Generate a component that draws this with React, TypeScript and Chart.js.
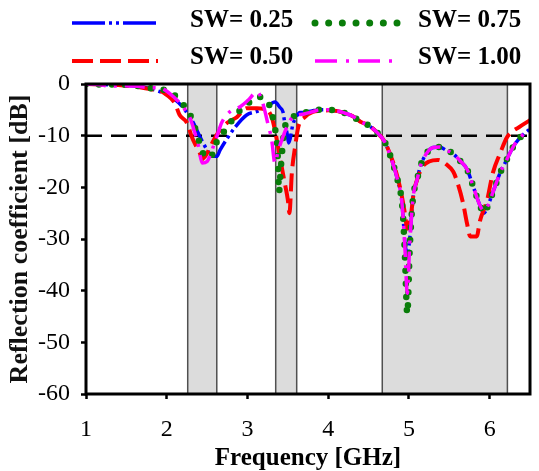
import React, { useEffect, useRef } from "react";
import { Chart, registerables } from "chart.js";

Chart.register(...registerables);

const SERIF = "'Liberation Serif', 'Times New Roman', serif";

// ---- data (frequency GHz, reflection coefficient dB) ----
const sw025: [number, number][] = [
  [1.0, 0], [1.2, -0.1], [1.4, -0.2], [1.6, -0.4], [1.8, -0.9], [1.92, -1.5], [2.0, -2.0],
  [2.1, -3.0], [2.2, -4.5], [2.29, -6.5], [2.33, -7.5], [2.39, -9.5], [2.45, -11.4],
  [2.51, -13.0], [2.56, -14.0], [2.62, -14.0], [2.66, -12.8], [2.75, -10.5], [2.85, -8.3],
  [2.99, -6.0], [3.12, -5.3], [3.24, -4.4], [3.34, -3.5], [3.40, -4.5], [3.44, -5.4],
  [3.46, -7.3], [3.49, -9.5], [3.51, -11.4], [3.53, -10.5], [3.56, -8.0], [3.60, -6.5],
  [3.65, -5.5], [3.70, -5.5], [3.80, -5.2], [3.90, -5.0], [4.0, -5.0], [4.1, -5.2],
  [4.2, -5.6], [4.3, -6.2], [4.4, -7.3], [4.5, -8.0], [4.6, -9.3], [4.7, -11.2], [4.8, -15.3],
  [4.86, -18.6], [4.91, -22.4], [4.93, -26.3], [4.95, -30.5], [4.98, -33.0], [5.01, -30.0],
  [5.04, -24.0], [5.06, -21.0], [5.10, -18.6], [5.14, -16.0], [5.22, -13.4], [5.30, -12.3],
  [5.38, -12.2], [5.46, -12.8], [5.54, -13.4], [5.63, -14.8], [5.72, -16.5], [5.80, -20.0],
  [5.88, -23.5], [5.93, -25.0], [5.98, -23.5], [6.04, -21.0], [6.13, -17.2], [6.21, -14.7],
  [6.29, -12.2], [6.37, -10.5], [6.5, -8.7],
];

const sw050: [number, number][] = [
  [1.0, 0], [1.2, -0.1], [1.4, -0.2], [1.6, -0.5], [1.8, -1.0], [1.92, -1.3], [2.0, -2.1],
  [2.1, -3.7], [2.16, -6.0], [2.25, -7.5], [2.31, -10.2], [2.37, -12.2], [2.41, -13.4],
  [2.44, -14.5], [2.50, -13.4], [2.57, -11.2], [2.66, -8.9], [2.75, -7.5], [2.87, -6.4],
  [2.99, -4.7], [3.12, -4.7], [3.24, -5.0], [3.30, -6.4], [3.34, -8.9], [3.40, -14.0],
  [3.46, -19.0], [3.50, -22.4], [3.52, -25.0], [3.55, -17.2], [3.59, -12.2], [3.63, -8.3],
  [3.71, -6.4], [3.81, -5.4], [3.9, -5.2], [4.0, -5.1], [4.1, -5.2], [4.2, -5.6], [4.3, -6.2],
  [4.4, -7.3], [4.5, -8.0], [4.6, -9.3], [4.7, -11.2], [4.8, -15.0], [4.89, -20.0],
  [4.95, -25.0], [4.98, -28.0], [5.02, -26.0], [5.06, -21.0], [5.10, -18.6], [5.17, -16.0],
  [5.25, -15.0], [5.36, -14.7], [5.46, -15.5], [5.55, -17.0], [5.60, -19.0], [5.67, -23.0],
  [5.72, -27.0], [5.76, -29.5], [5.84, -29.5], [5.88, -26.5], [5.97, -22.4], [6.04, -17.2],
  [6.13, -13.4], [6.22, -10.2], [6.37, -8.3], [6.5, -7.0],
];

const sw075: [number, number][] = [
  [1.0, 0], [1.2, -0.1], [1.4, -0.1], [1.6, -0.3], [1.8, -0.8], [1.92, -1.0], [2.04, -1.5],
  [2.19, -3.7], [2.29, -6.0], [2.35, -8.5], [2.39, -10.5], [2.45, -13.4], [2.50, -14.3],
  [2.56, -13.8], [2.63, -10.8], [2.75, -8.5], [2.85, -6.0], [2.97, -4.4], [3.12, -2.5],
  [3.24, -3.1], [3.30, -5.6], [3.34, -8.5], [3.37, -12.2], [3.38, -16.0], [3.39, -21.0],
  [3.41, -17.0], [3.43, -13.0], [3.46, -8.5], [3.56, -6.4], [3.74, -5.4], [3.9, -5.0],
  [4.0, -5.0], [4.1, -5.2], [4.2, -5.6], [4.3, -6.2], [4.4, -7.3], [4.5, -8.0], [4.6, -9.3],
  [4.7, -11.2], [4.8, -15.3], [4.86, -18.6], [4.91, -22.4], [4.93, -26.3], [4.95, -33.0],
  [4.98, -44.5], [5.01, -32.0], [5.04, -24.0], [5.06, -21.0], [5.10, -18.6], [5.14, -16.0],
  [5.22, -13.4], [5.30, -12.3], [5.38, -12.2], [5.46, -12.8], [5.54, -13.4], [5.63, -14.8],
  [5.72, -16.5], [5.80, -20.0], [5.88, -23.5], [5.93, -25.0], [5.98, -23.5], [6.04, -21.0],
  [6.13, -17.2], [6.21, -14.7], [6.29, -12.2], [6.37, -10.5], [6.5, -8.7],
];

const sw100: [number, number][] = [
  [1.0, 0], [1.2, -0.2], [1.3, -0.5], [1.4, -0.3], [1.6, -0.4], [1.8, -0.7], [1.92, -0.8],
  [2.1, -2.7], [2.2, -4.4], [2.29, -6.6], [2.33, -8.5], [2.39, -11.8], [2.44, -15.3],
  [2.50, -15.0], [2.56, -12.8], [2.62, -10.2], [2.68, -7.5], [2.78, -5.4], [2.91, -4.4],
  [3.01, -3.1], [3.12, -1.5], [3.19, -3.7], [3.25, -7.5], [3.30, -10.8], [3.34, -15.3],
  [3.38, -13.0], [3.44, -10.2], [3.49, -8.3], [3.56, -6.4], [3.70, -5.8], [3.8, -5.4],
  [3.9, -5.0], [4.0, -5.0], [4.1, -5.2], [4.2, -5.6], [4.3, -6.2], [4.4, -7.3], [4.5, -8.0],
  [4.6, -9.3], [4.7, -11.2], [4.8, -15.3], [4.86, -18.6], [4.91, -22.4], [4.93, -26.3],
  [4.95, -31.5], [4.98, -40.5], [5.01, -31.0], [5.04, -24.0], [5.06, -21.0], [5.10, -18.6],
  [5.14, -16.0], [5.22, -13.4], [5.30, -12.3], [5.38, -12.2], [5.46, -12.8], [5.54, -13.4],
  [5.63, -14.8], [5.72, -16.5], [5.80, -20.0], [5.88, -23.5], [5.93, -24.5], [5.98, -23.5],
  [6.04, -21.0], [6.13, -17.2], [6.21, -14.7], [6.29, -12.2], [6.37, -10.5], [6.5, -8.7],
];

const seriesLabels = ["SW= 0.25", "SW= 0.50", "SW= 0.75", "SW= 1.00"];
const bandStart = [2.26, 3.35, 4.67];
const bandEnd = [2.62, 3.61, 6.22];
const refLevel = -10;
const xTickValues = [1, 2, 3, 4, 5, 6];
const yTickValues = [0, -10, -20, -30, -40, -50, -60];
const X_MIN = 1, X_MAX = 6.5, Y_MIN = -60, Y_MAX = 0;

const toPts = (arr: [number, number][]) => arr.map(([x, y]) => ({ x, y }));

// legend layout (row/col positions)
const legendItems = [
  { label: seriesLabels[0], color: "#0000ff", dash: [33, 4, 3, 4, 3, 4], width: 3.5, cap: "butt", x0: 72, x1: 158, tx: 190, ty: 21, ly: 23 },
  { label: seriesLabels[2], color: "#0a7d0a", dash: [0, 13.67], width: 7, cap: "round", x0: 315, x1: 397.5, tx: 418, ty: 21, ly: 23 },
  { label: seriesLabels[1], color: "#ff0000", dash: [21, 7], width: 4, cap: "butt", x0: 72, x1: 158, tx: 190, ty: 57.5, ly: 61 },
  { label: seriesLabels[3], color: "#ff00ff", dash: [22, 9, 3, 9], width: 3.5, cap: "butt", x0: 315, x1: 398, tx: 418, ty: 57.5, ly: 61 },
];

const decorPlugin = {
  id: "decor",
  beforeDatasetsDraw(chart: any) {
    const { ctx, scales } = chart;
    const x = scales.x, y = scales.y;
    const yTop = y.getPixelForValue(Y_MAX);
    const yBot = y.getPixelForValue(Y_MIN);
    ctx.save();
    for (let i = 0; i < bandStart.length; i++) {
      const x0 = x.getPixelForValue(bandStart[i]);
      const x1 = x.getPixelForValue(bandEnd[i]);
      ctx.fillStyle = "#dcdcdc";
      ctx.fillRect(x0, yTop, x1 - x0, yBot - yTop);
      ctx.strokeStyle = "#505050";
      ctx.lineWidth = 1.5;
      ctx.beginPath();
      ctx.moveTo(x0, yTop); ctx.lineTo(x0, yBot);
      ctx.moveTo(x1, yTop); ctx.lineTo(x1, yBot);
      ctx.stroke();
    }
    ctx.restore();
  },
  afterDatasetsDraw(chart: any) {
    const { ctx, chartArea } = chart;
    ctx.save();
    ctx.strokeStyle = "#000";
    ctx.lineWidth = 3;
    ctx.strokeRect(chartArea.left, chartArea.top, chartArea.right - chartArea.left, chartArea.bottom - chartArea.top);
    ctx.restore();
  },
  afterDraw(chart: any) {
    const { ctx } = chart;
    ctx.save();
    for (const it of legendItems) {
      ctx.strokeStyle = it.color;
      ctx.lineWidth = it.width;
      ctx.lineCap = it.cap;
      ctx.setLineDash(it.dash);
      ctx.beginPath();
      ctx.moveTo(it.x0, it.ly);
      ctx.lineTo(it.x1, it.ly);
      ctx.stroke();
      ctx.setLineDash([]);
      ctx.fillStyle = "#000";
      ctx.font = `bold 25px ${SERIF}`;
      ctx.textAlign = "left";
      ctx.textBaseline = "middle";
      ctx.fillText(it.label, it.tx, it.ty);
    }
    ctx.restore();
  },
};

export default function App() {
  const ref = useRef<HTMLCanvasElement | null>(null);

  useEffect(() => {
    document.body.style.margin = "0";
    const canvas = ref.current;
    if (!canvas) return;
    const common = { pointRadius: 0, pointHoverRadius: 0, fill: false, cubicInterpolationMode: "monotone" as const };
    const chart = new Chart(canvas, {
      type: "line",
      data: {
        datasets: [
          { ...common, label: seriesLabels[3], data: toPts(sw100), borderColor: "#ff00ff", borderWidth: 3.5, borderDash: [20, 8, 3, 8], order: 0 },
          { ...common, label: seriesLabels[2], data: toPts(sw075), borderColor: "#0a7d0a", borderWidth: 6.5, borderDash: [0, 13], borderCapStyle: "round", order: 1 },
          { ...common, label: seriesLabels[1], data: toPts(sw050), borderColor: "#ff0000", borderWidth: 4, borderDash: [18, 7], order: 2 },
          { ...common, label: seriesLabels[0], data: toPts(sw025), borderColor: "#0000ff", borderWidth: 3.5, borderDash: [22, 4, 3, 4, 3, 4], order: 3 },
          { pointRadius: 0, fill: false, label: "-10 dB", data: [{ x: X_MIN, y: refLevel }, { x: X_MAX, y: refLevel }], borderColor: "#000", borderWidth: 2.5, borderDash: [16, 9], order: 10 },
        ],
      },
      options: {
        animation: false,
        responsive: false,
        events: [],
        layout: { padding: { top: 84, right: 9, left: 0, bottom: 0 } },
        plugins: { legend: { display: false }, tooltip: { enabled: false }, title: { display: false } },
        scales: {
          x: {
            type: "linear",
            min: X_MIN,
            max: X_MAX,
            afterBuildTicks: (s: any) => { s.ticks = xTickValues.map((v) => ({ value: v })); },
            afterFit: (s: any) => { s.height = 77; },
            grid: { display: true, drawOnChartArea: false, drawTicks: true, tickLength: 5, tickWidth: 2.5, tickColor: "#000" },
            border: { display: false },
            ticks: { color: "#000", font: { family: SERIF, size: 24 }, padding: 16, maxRotation: 0, autoSkip: false },
            title: { display: true, text: "Frequency [GHz]", color: "#000", font: { family: SERIF, size: 25, weight: "bold", lineHeight: 1 }, padding: { top: 0, bottom: 0 } },
          },
          y: {
            type: "linear",
            min: Y_MIN,
            max: Y_MAX,
            afterBuildTicks: (s: any) => { s.ticks = yTickValues.map((v) => ({ value: v })); },
            afterFit: (s: any) => { s.width = 86; },
            grid: { display: true, drawOnChartArea: false, drawTicks: true, tickLength: 5, tickWidth: 2.5, tickColor: "#000" },
            border: { display: false },
            ticks: { color: "#000", font: { family: SERIF, size: 24 }, padding: 11, autoSkip: false },
            title: { display: true, text: "Reflection coefficient [dB]", color: "#111", font: { family: SERIF, size: 26, weight: "bold", lineHeight: 1 }, padding: { top: 7, bottom: 0 } },
          },
        },
      },
      plugins: [decorPlugin],
    } as any);
    return () => chart.destroy();
  }, []);

  return (
    <div style={{ width: 539, height: 471 }}>
      <canvas ref={ref} width={539} height={471} style={{ display: "block", width: 539, height: 471 }} />
    </div>
  );
}
